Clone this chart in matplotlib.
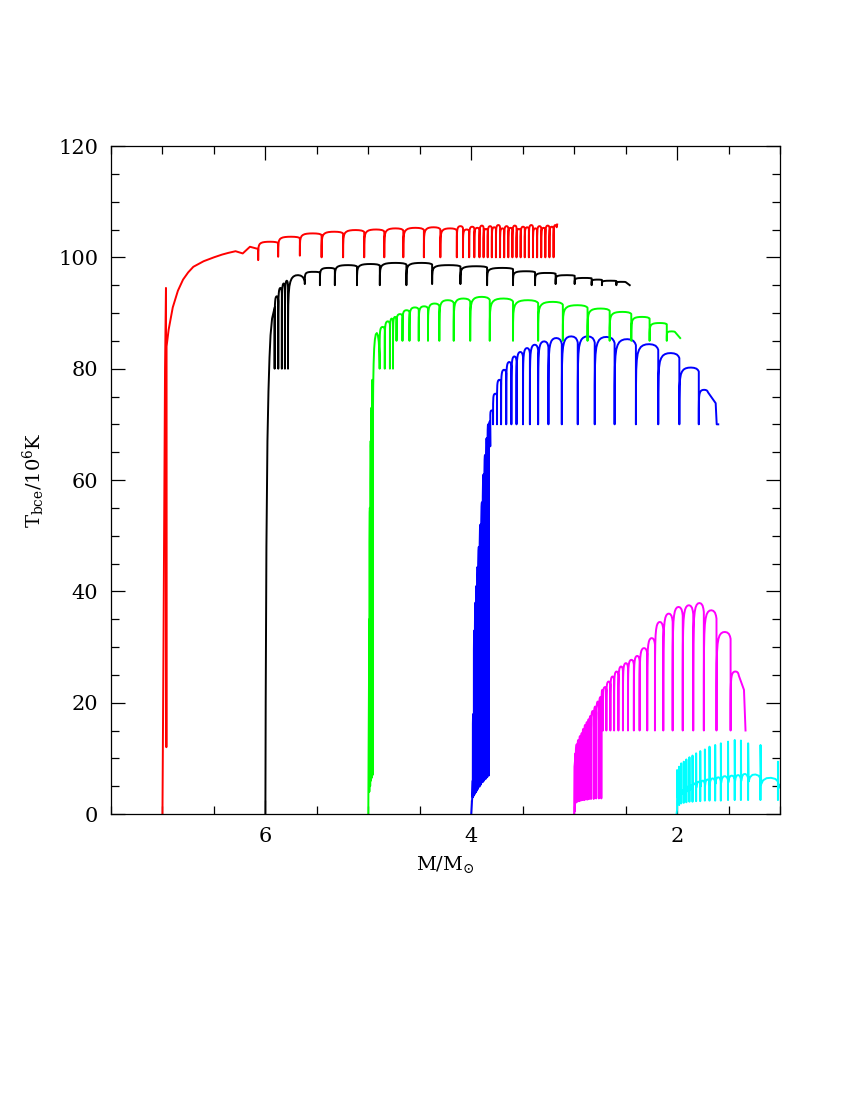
import matplotlib
matplotlib.use("Agg")
import matplotlib.pyplot as plt
from matplotlib.ticker import MultipleLocator

plt.rcParams['font.family'] = ['DejaVu Serif']
plt.rcParams['mathtext.fontset'] = 'dejavuserif'

# ---- 7 Msun (red) ----
red_start_m = [7.00, 6.99, 6.975, 6.966, 6.962, 6.96, 6.94, 6.90, 6.85, 6.80, 6.75,
               6.70, 6.60, 6.50, 6.42, 6.36, 6.29, 6.22, 6.15, 6.07]
red_start_t = [0.0, 30.0, 80.0, 94.5, 12.0, 84.0, 87.0, 91.0, 94.0, 96.0, 97.3,
               98.3, 99.3, 100.0, 100.5, 100.8, 101.1, 100.7, 101.9, 101.5]
red_dip_m = [6.07, 5.876, 5.665, 5.454, 5.245, 5.04, 4.845, 4.66, 4.46, 4.30,
             4.14, 4.08, 4.02, 3.97, 3.92, 3.88, 3.84, 3.80, 3.76, 3.72, 3.68,
             3.64, 3.60, 3.56, 3.52, 3.48, 3.44, 3.40, 3.36, 3.32, 3.28, 3.24, 3.20]
red_dip_top = [101.9, 102.8, 103.7, 104.3, 104.6, 104.9, 105.0, 105.2, 105.3, 105.4,
               105.2, 105.6, 105.0, 105.5, 105.3, 105.7, 105.1, 105.6, 105.4, 105.8, 105.2,
               105.6, 105.3, 105.7, 105.1, 105.5, 105.4, 105.8, 105.2, 105.6, 105.3, 105.7, 105.5]
red_dip_floor = [99.5, 100.1, 100.3, 100.0, 100.0, 100.0, 100.0, 100.0, 100.0, 100.0,
                 100.0, 100.0, 100.0, 100.0, 100.0, 100.0, 100.0, 100.0, 100.0, 100.0, 100.0,
                 100.0, 100.0, 100.0, 100.0, 100.0, 100.0, 100.0, 100.0, 100.0, 100.0, 100.0, 100.0]
red_end_m = [3.17, 3.165]
red_end_t = [105.8, 105.9]

# ---- 6 Msun (black) ----
black_start_m = [6.00, 5.997, 5.99, 5.98, 5.97, 5.96, 5.95, 5.935, 5.91]
black_start_t = [0.0, 20.0, 48.0, 67.0, 76.0, 82.0, 86.0, 89.0, 91.0]
black_dip_m = [5.91, 5.875, 5.84, 5.81, 5.78, 5.617, 5.47, 5.325, 5.11, 4.888, 4.63,
               4.38, 4.105, 3.846, 3.594, 3.38, 3.18, 2.995, 2.83, 2.73, 2.59]
black_dip_top = [91.0, 93.0, 94.5, 95.3, 95.8, 96.8, 97.4, 98.1, 98.6, 98.8, 99.0,
                 99.0, 98.6, 98.4, 98.1, 97.5, 97.2, 96.8, 96.3, 96.0, 95.8]
black_dip_floor = [80.0, 80.0, 80.0, 80.0, 80.0, 95.2, 95.0, 95.0, 95.0, 95.0, 95.0,
                   95.2, 95.2, 95.0, 95.0, 95.0, 95.2, 95.2, 95.0, 95.0, 95.0]
black_end_m = [2.50, 2.46]
black_end_t = [95.6, 95.0]

# ---- 5 Msun (green) ----
green_start_m = [5.00, 4.997, 4.99]
green_start_t = [0.0, 12.0, 35.0]
green_dip_m = [4.99, 4.982, 4.974, 4.966, 4.958,
               4.89, 4.84, 4.79, 4.76, 4.726, 4.668, 4.60, 4.51, 4.42, 4.31, 4.17,
               4.01, 3.82, 3.594, 3.35, 3.11, 2.87, 2.655, 2.445, 2.267, 2.10]
green_dip_top = [35.0, 55.0, 67.0, 73.0, 78.0,
                 86.4, 87.5, 88.5, 89.0, 89.3, 89.8, 90.5, 91.0, 91.2, 91.7, 92.3,
                 92.6, 92.9, 92.6, 92.3, 92.0, 91.4, 90.8, 90.2, 89.3, 88.2]
green_dip_floor = [4.0, 5.0, 6.0, 6.5, 7.0,
                   80.0, 80.0, 80.0, 80.0, 85.0, 85.0, 85.0, 85.0, 85.0, 85.0, 85.0,
                   85.0, 85.0, 85.0, 85.0, 85.0, 85.0, 85.0, 85.0, 85.0, 85.0]
green_end_m = [2.02, 1.97]
green_end_t = [86.7, 85.5]

# ---- 4 Msun (blue) ----
blue_start_m = [4.00, 3.99, 3.985]
blue_start_t = [0.0, 3.0, 6.0]
blue_dip_m = [3.985, 3.975, 3.965, 3.955, 3.945, 3.935, 3.92, 3.905, 3.89, 3.875, 3.86,
              3.845, 3.83, 3.815, 3.788, 3.75, 3.71, 3.66, 3.61, 3.56, 3.497, 3.43,
              3.35, 3.25, 3.12, 2.965, 2.80, 2.607, 2.40, 2.183, 1.978, 1.789]
blue_dip_top = [6.0, 18.0, 33.0, 38.0, 41.0, 44.4, 48.0, 52.0, 56.0, 61.0, 64.5,
                67.5, 70.0, 70.5, 72.5, 75.5, 78.0, 79.8, 81.2, 82.2, 83.0, 83.7,
                84.3, 84.9, 85.5, 85.8, 85.8, 85.7, 85.3, 84.4, 82.8, 80.2]
blue_dip_floor = [3.0, 3.3, 3.6, 3.9, 4.2, 4.5, 4.9, 5.3, 5.7, 6.0, 6.3,
                  6.6, 6.9, 70.0, 70.0, 70.0, 70.0, 70.0, 70.0, 70.0, 70.0, 70.0,
                  70.0, 70.0, 70.0, 70.0, 70.0, 70.0, 70.0, 70.0, 70.0, 70.0]
blue_end_m = [1.70, 1.625, 1.615, 1.60]
blue_end_t = [76.2, 73.8, 70.0, 70.0]

# ---- 3 Msun (magenta) ----
mag_start_m = [3.00, 2.997, 2.992]
mag_start_t = [0.0, 8.5, 9.5]
mag_dip_m = [2.992, 2.985, 2.969, 2.952, 2.936, 2.92, 2.903, 2.886, 2.87, 2.853, 2.836,
             2.81, 2.786, 2.76, 2.736, 2.72, 2.687, 2.648, 2.612, 2.57, 2.526, 2.477,
             2.42, 2.364, 2.29, 2.215, 2.134, 2.043, 1.945, 1.843, 1.74, 1.617, 1.48]
mag_dip_top = [9.5, 10.9, 12.5, 13.3, 14.0, 14.5, 15.3, 16.0, 16.5, 17.0, 17.6,
               18.5, 19.3, 20.2, 21.0, 22.3, 22.8, 23.8, 24.7, 25.6, 26.5, 27.1,
               27.7, 28.4, 29.8, 31.6, 34.5, 36.0, 37.2, 37.5, 37.9, 36.6, 32.7]
mag_dip_floor = [0.5, 2.0, 2.2, 2.3, 2.4, 2.5, 2.5, 2.6, 2.6, 2.7, 2.7,
                 2.7, 2.8, 2.8, 2.8, 15.0, 15.0, 15.0, 15.0, 15.0, 15.0, 15.0,
                 15.0, 15.0, 15.0, 15.0, 15.0, 15.0, 15.0, 15.0, 15.0, 15.0, 15.0]
mag_end_m = [1.40, 1.35, 1.335]
mag_end_t = [25.6, 22.3, 15.0]

# ---- 2 Msun (cyan): pulses spike upwards ----
cyan_start_m = [2.005]
cyan_start_t = [0.0]
cyan_pulse_m = [2.00, 1.98, 1.96, 1.935, 1.91, 1.88, 1.85, 1.815, 1.775, 1.73,
                1.685, 1.63, 1.575, 1.505, 1.44, 1.38, 1.31, 1.19, 1.02]
cyan_peak = [7.9, 8.5, 9.1, 9.4, 9.8, 10.2, 10.5, 10.9, 11.3, 11.6,
             12.1, 12.4, 12.7, 13.0, 13.3, 13.2, 12.7, 12.4, 9.4]
cyan_arc = [3.7, 4.0, 4.3, 4.6, 4.9, 5.2, 5.5, 5.8, 6.0, 6.2,
            6.4, 6.6, 6.8, 6.9, 7.0, 7.2, 7.1, 6.5, 5.3]
cyan_floor = [0.8, 1.6, 1.9, 2.0, 2.1, 2.2, 2.2, 2.3, 2.3, 2.4,
              2.4, 2.4, 2.4, 2.5, 2.5, 2.5, 2.5, 2.5, 2.5]
cyan_end_m = [1.00]
cyan_end_t = [5.0]

# shape of one interpulse arch (fraction of spacing, fraction of height)
ARCH_F = [0.003, 0.015, 0.04, 0.08, 0.14, 0.22, 0.32, 0.45, 0.6, 0.75, 0.88, 0.96, 1.0]
ARCH_S = [0.45, 0.68, 0.80, 0.88, 0.93, 0.965, 0.985, 0.997, 1.0, 0.995, 0.98, 0.955, 0.93]
SPIKE_F = [0.004, 0.04, 0.15, 0.35, 0.6, 0.85, 1.0]
SPIKE_S = [None, 0.82, 0.93, 0.99, 1.0, 0.97, 0.9]


def track(start_m, start_t, dip_m, dip_top, dip_floor, end_m, end_t):
    xs, ys = list(start_m), list(start_t)
    nxt_m = list(dip_m[1:]) + [end_m[0]]
    nxt_t = list(dip_top[1:]) + [end_t[0]]
    for m, fl, m2, t2 in zip(dip_m, dip_floor, nxt_m, nxt_t):
        g, h = m - m2, t2 - fl
        xs.append(m)
        ys.append(fl)
        xs += [m - f * g for f in ARCH_F]
        ys += [fl + s * h for s in ARCH_S]
    return xs + list(end_m[1:]), ys + list(end_t[1:])


def spikes(start_m, start_t, pm, peak, arc, floor, end_m, end_t):
    xs, ys = list(start_m), list(start_t)
    nxt_m = list(pm[1:]) + [end_m[0]]
    for m, pk, a, fl, m2 in zip(pm, peak, arc, floor, nxt_m):
        g = m - m2
        xs.append(m)
        ys.append(fl)
        for f, s in zip(SPIKE_F, SPIKE_S):
            xs.append(m - f * g)
            ys.append(pk if s is None else a * s)
    return xs, ys


fig = plt.figure(figsize=(8.5, 11), dpi=100)
ax = fig.add_axes([111 / 850, 286 / 1100, 669 / 850, 668 / 1100])

lw = 1.4
x, y = spikes(cyan_start_m, cyan_start_t, cyan_pulse_m, cyan_peak, cyan_arc,
              cyan_floor, cyan_end_m, cyan_end_t)
ax.plot(x, y, color='#00ffff', lw=lw)
x, y = track(mag_start_m, mag_start_t, mag_dip_m, mag_dip_top, mag_dip_floor,
             mag_end_m, mag_end_t)
ax.plot(x, y, color='#ff00ff', lw=lw)
x, y = track(blue_start_m, blue_start_t, blue_dip_m, blue_dip_top, blue_dip_floor,
             blue_end_m, blue_end_t)
ax.plot(x, y, color='#0000ff', lw=lw)
x, y = track(green_start_m, green_start_t, green_dip_m, green_dip_top, green_dip_floor,
             green_end_m, green_end_t)
ax.plot(x, y, color='#00ff00', lw=lw)
x, y = track(black_start_m, black_start_t, black_dip_m, black_dip_top, black_dip_floor,
             black_end_m, black_end_t)
ax.plot(x, y, color='black', lw=lw)
x, y = track(red_start_m, red_start_t, red_dip_m, red_dip_top, red_dip_floor,
             red_end_m, red_end_t)
ax.plot(x, y, color='#ff0000', lw=lw)

ax.set_xlim(7.5, 1.0)
ax.set_ylim(0, 120)
ax.xaxis.set_major_locator(MultipleLocator(2))
ax.xaxis.set_minor_locator(MultipleLocator(0.5))
ax.yaxis.set_major_locator(MultipleLocator(20))
ax.yaxis.set_minor_locator(MultipleLocator(5))
ax.tick_params(which='both', direction='in', top=True, right=True, width=0.9)
ax.tick_params(which='major', length=10, labelsize=15)
ax.tick_params(which='minor', length=5.5)
ax.tick_params(axis='x', which='major', pad=9)
ax.tick_params(axis='y', which='major', pad=9)
for s in ax.spines.values():
    s.set_linewidth(0.9)

ax.set_xlabel(r'$\mathrm{M/M_{\odot}}$', fontsize=14, labelpad=6)
ax.set_ylabel(r'$\mathrm{T_{bce}/10^6K}$', fontsize=14, labelpad=8)

fig.savefig('out.png', dpi=100)
